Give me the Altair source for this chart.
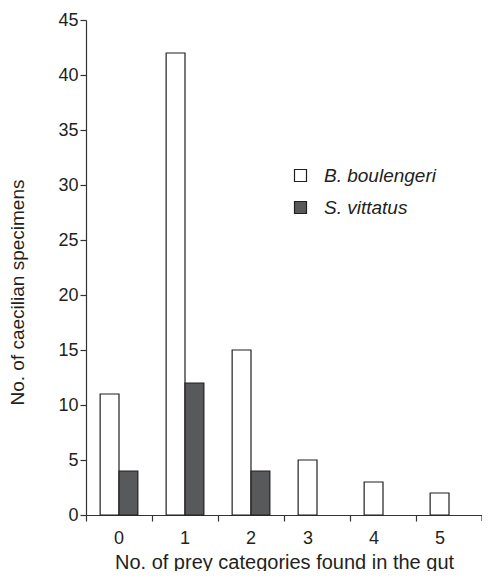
import altair as alt
import pandas as pd

categories = ["0", "1", "2", "3", "4", "5"]
series_names = ["B. boulengeri", "S. vittatus"]
boulengeri = [11, 42, 15, 5, 3, 2]
vittatus = [4, 12, 4, 0, 0, 0]

rows = []
for c, b, v in zip(categories, boulengeri, vittatus):
    rows.append({"cat": c, "series": series_names[0], "value": b})
    rows.append({"cat": c, "series": series_names[1], "value": v})
df = pd.DataFrame(rows)

W, H = 396, 495
FONT = "Liberation Sans"
INK = "#231f20"

bars = alt.Chart(df).transform_filter("datum.value > 0").mark_bar(
    stroke=INK, strokeWidth=1.2
).encode(
    x=alt.X("cat:O", sort=categories,
            scale=alt.Scale(paddingInner=0, paddingOuter=0),
            axis=alt.Axis(title="No. of prey categories found in the gut",
                          labelAngle=0, bandPosition=0,
                          labelOffset=alt.ExprRef("toNumber(datum.value) >= 3 ? -9 : 0"),
                          tickSize=6, labelPadding=8, labelFontSize=18,
                          titleFontSize=20, titleBaseline="alphabetic", titleY=53)),
    xOffset=alt.XOffset("series:N", sort=series_names,
                        scale=alt.Scale(domain=series_names, paddingInner=0, paddingOuter=0.75)),
    y=alt.Y("value:Q",
            scale=alt.Scale(domain=[0, 45], nice=False),
            axis=alt.Axis(title="No. of caecilian specimens", values=list(range(0, 50, 5)),
                          grid=False, tickSize=6, labelPadding=2, labelFontSize=18,
                          titleFontSize=19, titleX=-59, titleY=272)),
    color=alt.Color("series:N", sort=series_names,
                    scale=alt.Scale(domain=series_names, range=["#ffffff", "#58595b"]),
                    legend=alt.Legend(title=None, orient="none", legendX=205, legendY=146,
                                      symbolType="square", symbolSize=144,
                                      symbolStrokeColor=INK, symbolStrokeWidth=1.2,
                                      labelFont=FONT, labelFontSize=19, labelFontStyle="italic",
                                      labelColor=INK, labelOffset=14, rowPadding=12,
                                      padding=0)),
)

end_tick = alt.Chart(pd.DataFrame({"a": [0]})).mark_rule(color="#333333", strokeWidth=1.2).encode(
    x=alt.value(W), y=alt.value(H), y2=alt.value(H + 6)
)

chart = alt.layer(bars, end_tick).properties(
    width=W, height=H,
    padding={"left": 78, "top": 12, "right": 0, "bottom": 56},
    autosize=alt.AutoSizeParams(type="none"),
).configure_view(stroke=None).configure_axis(
    labelFont=FONT, titleFont=FONT,
    titleFontWeight="normal", labelColor=INK, titleColor=INK,
    domainColor="#333333", tickColor="#333333", domainWidth=1.2, tickWidth=1.2,
)

chart.save("out.html", embed_options={"renderer": "svg", "actions": False})
